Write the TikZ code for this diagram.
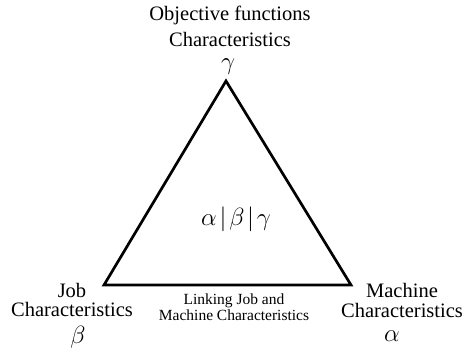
\documentclass[tikz,border=0pt]{standalone}
\usepackage{fontspec}
\setmainfont{Liberation Serif}
\begin{document}
\begin{tikzpicture}[x=1pt,y=-1pt,
  lbl/.style={inner sep=0pt,align=center,font=\fontsize{20.5}{19.5}\selectfont},
  toplbl/.style={inner sep=0pt,align=center,font=\fontsize{20.5}{26}\selectfont},
  small/.style={inner sep=0pt,align=center,font=\fontsize{15.5}{16}\selectfont},
  greek/.style={inner sep=0pt,font=\fontsize{31}{31}\selectfont},
  edge/.style={line width=2.7pt,line join=miter}]
\useasboundingbox (0,0) rectangle (469,354);
\coordinate (top) at (226,81);
\coordinate (bl) at (104,285);
\coordinate (br) at (351,285);
\draw[edge] (top) -- (bl) -- (br) -- cycle;
\node[toplbl] (obj) at (230,26) {Objective functions\\Characteristics};
\node[greek] (g) at (228,67) {$\gamma$};
\node[inner sep=0pt,font=\fontsize{26}{26}\selectfont] (mid) at (236,219) {$\alpha\mkern2mu|\mkern2mu\beta\mkern2mu|\mkern2mu\gamma$};
\node[lbl] (job) at (72,300) {Job\\Characteristics};
\node[greek] (b) at (78,337) {$\beta$};
\node[lbl] (mach) at (402,300.5) {Machine\\Characteristics};
\node[greek] (a) at (392,336) {$\alpha$};
\node[small] (link) at (234,307) {Linking Job and\\Machine Characteristics};
\end{tikzpicture}
\end{document}
